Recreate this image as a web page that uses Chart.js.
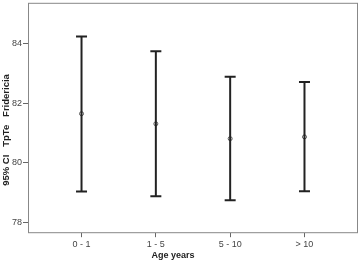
<!DOCTYPE html>
<html>
<head>
    <meta charset="utf-8">
    <script src="https://cdn.jsdelivr.net/npm/chart.js@4.4.0/dist/chart.umd.min.js"></script>
    <style>
        body { margin: 0; background: #fff; }
        #wrap { width: 360px; height: 262px; }
    </style>
</head>
<body>
    <div id="wrap"><canvas id="ciChart" width="360" height="262"></canvas></div>
    <script>
        // age groups and 95% CI of TpTe (Fridericia)
        const ageGroups = ['0 - 1', '1 - 5', '5 - 10', '> 10'];
        const means = [81.65, 81.31, 80.81, 80.87];
        const lowerCI = [79.03, 78.87, 78.74, 79.04];
        const upperCI = [84.25, 83.75, 82.89, 82.72];
        const yTicks = [78, 80, 82, 84];
        const xTitle = 'Age years';
        const yTitle = '95% CI   TpTe   Fridericia';

        const stems = [];
        ageGroups.forEach(function (g, i) {
            stems.push({ x: i, y: lowerCI[i] });
            stems.push({ x: i, y: upperCI[i] });
            stems.push({ x: i, y: null });
        });

        // frame around plot area + axis titles (placed like the original, off-centre)
        const framePlugin = {
            id: 'frame',
            afterDraw: function (chart) {
                const a = chart.chartArea, c = chart.ctx;
                c.save();
                c.strokeStyle = '#888';
                c.lineWidth = 1;
                c.strokeRect(a.left + 0.5, a.top + 0.5, a.right - a.left - 1, a.bottom - a.top - 1);

                c.fillStyle = '#222';
                c.font = 'bold 9px "Liberation Sans"';
                c.textAlign = 'center';
                c.textBaseline = 'middle';
                c.fillText(xTitle, 173, 256);

                c.font = 'bold 9.5px "Liberation Sans"';
                c.translate(6, 130);
                c.rotate(-Math.PI / 2);
                c.fillText(yTitle, 0, 0);
                c.restore();
            }
        };

        const ctx = document.getElementById('ciChart').getContext('2d');
        new Chart(ctx, {
            type: 'scatter',
            data: {
                datasets: [
                    {
                        type: 'line',
                        data: stems,
                        borderColor: '#222',
                        borderWidth: 2,
                        pointRadius: 0,
                        spanGaps: false
                    },
                    {
                        data: upperCI.map((v, i) => ({ x: i, y: v })),
                        pointStyle: 'line',
                        pointRadius: 5.5,
                        borderColor: '#222',
                        borderWidth: 2
                    },
                    {
                        data: lowerCI.map((v, i) => ({ x: i, y: v })),
                        pointStyle: 'line',
                        pointRadius: 5.5,
                        borderColor: '#222',
                        borderWidth: 2
                    },
                    {
                        data: means.map((v, i) => ({ x: i, y: v })),
                        pointStyle: 'circle',
                        pointRadius: 2,
                        backgroundColor: '#fff',
                        borderColor: '#555',
                        borderWidth: 1
                    }
                ]
            },
            options: {
                responsive: false,
                animation: false,
                layout: { autoPadding: false, padding: { top: 1, right: 2, left: 11, bottom: 10 } },
                plugins: { legend: { display: false }, tooltip: { enabled: false } },
                scales: {
                    x: {
                        type: 'linear',
                        min: -0.72,
                        max: 3.72,
                        afterBuildTicks: function (s) { s.ticks = ageGroups.map((g, i) => ({ value: i })); },
                        ticks: {
                            callback: function (v) { return ageGroups[v]; },
                            color: '#444',
                            font: { family: 'Liberation Sans', size: 9 },
                            padding: 2,
                            maxRotation: 0
                        },
                        grid: { drawOnChartArea: false, tickLength: 4, color: '#666' },
                        border: { display: false }
                    },
                    y: {
                        min: 77.63,
                        max: 85.38,
                        afterBuildTicks: function (s) { s.ticks = yTicks.map(v => ({ value: v })); },
                        ticks: {
                            color: '#444',
                            font: { family: 'Liberation Sans', size: 9, lineHeight: 0.4 },
                            padding: 1
                        },
                        grid: { drawOnChartArea: false, tickLength: 5, color: '#666' },
                        border: { display: false }
                    }
                }
            },
            plugins: [framePlugin]
        });
    </script>
</body>
</html>
